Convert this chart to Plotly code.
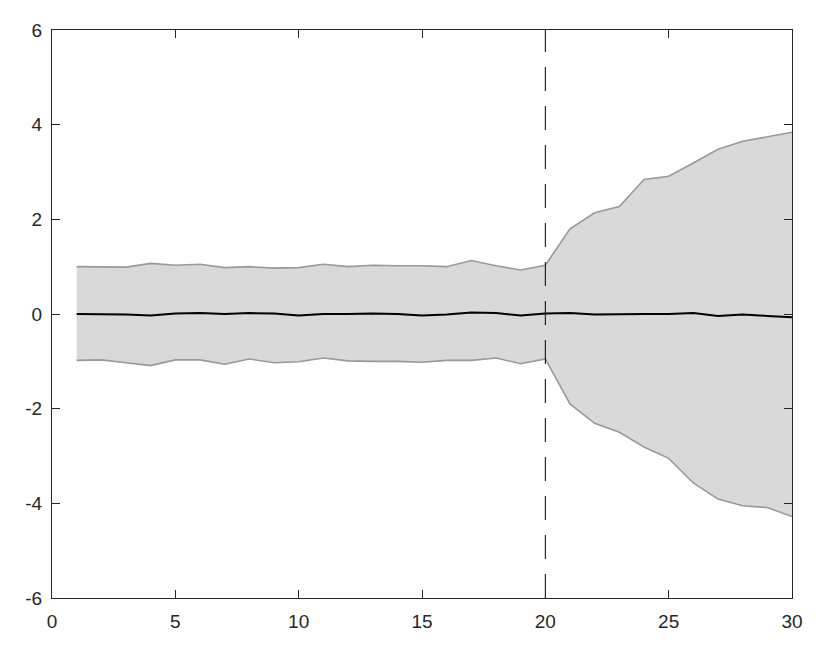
import plotly.graph_objects as go

# data
steps = list(range(1, 31))
upper = [1.00, 0.99, 0.99, 1.07, 1.03, 1.05, 0.98, 1.00, 0.97, 0.98,
         1.05, 1.00, 1.03, 1.02, 1.02, 1.00, 1.13, 1.02, 0.93, 1.03,
         1.80, 2.14, 2.27, 2.84, 2.91, 3.19, 3.48, 3.65, 3.75, 3.84]
lower = [-0.98, -0.97, -1.03, -1.09, -0.97, -0.97, -1.06, -0.95, -1.03, -1.01,
         -0.93, -0.99, -1.00, -1.00, -1.02, -0.98, -0.98, -0.93, -1.05, -0.95,
         -1.90, -2.31, -2.50, -2.81, -3.05, -3.57, -3.91, -4.05, -4.09, -4.28]
mean = [0.00, 0.00, -0.01, -0.03, 0.01, 0.02, 0.00, 0.02, 0.01, -0.03,
        0.00, 0.00, 0.01, 0.00, -0.03, -0.01, 0.03, 0.02, -0.03, 0.01,
        0.02, -0.01, 0.00, 0.00, 0.00, 0.02, -0.04, -0.01, -0.04, -0.07]
split_x = [20, 20]
split_y = [-6, 6]

x_ticks = [0, 5, 10, 15, 20, 25, 30]
y_ticks = [-6, -4, -2, 0, 2, 4, 6]
y_labels = ['-6', '-4', '-2', '0', '2', '4', '6']

band_col = '#999999'
fill_col = '#d9d9d9'

fig = go.Figure()

# lower bound, then upper filled down to it
fig.add_trace(go.Scatter(x=steps, y=lower, mode='lines',
                         line=dict(color=band_col, width=1.6),
                         showlegend=False))
fig.add_trace(go.Scatter(x=steps, y=upper, mode='lines',
                         line=dict(color=band_col, width=1.6),
                         fill='tonexty', fillcolor=fill_col,
                         showlegend=False))
fig.add_trace(go.Scatter(x=steps, y=mean, mode='lines',
                         line=dict(color='black', width=2),
                         showlegend=False))
# forecast start marker
fig.add_trace(go.Scatter(x=split_x, y=split_y, mode='lines',
                         line=dict(color='black', width=1, dash='24px,15px'),
                         showlegend=False))

axis_style = dict(
    showgrid=False, zeroline=False,
    showline=True, linecolor='#262626', linewidth=1,
    mirror='ticks', ticks='inside', ticklen=8, tickcolor='#262626',
    tickfont=dict(family='Liberation Sans, Arial, sans-serif', size=19, color='#262626'),
)

fig.update_xaxes(range=[0, 30], tickvals=x_ticks, ticklabelstandoff=6, **axis_style)
fig.update_yaxes(range=[-6, 6], tickvals=y_ticks, ticktext=y_labels,
                 ticklabelstandoff=5, **axis_style)

fig.update_layout(
    width=830, height=648,
    margin=dict(l=44, r=46, t=18, b=58),
    plot_bgcolor='white', paper_bgcolor='white',
)

fig.write_html("out.html")
